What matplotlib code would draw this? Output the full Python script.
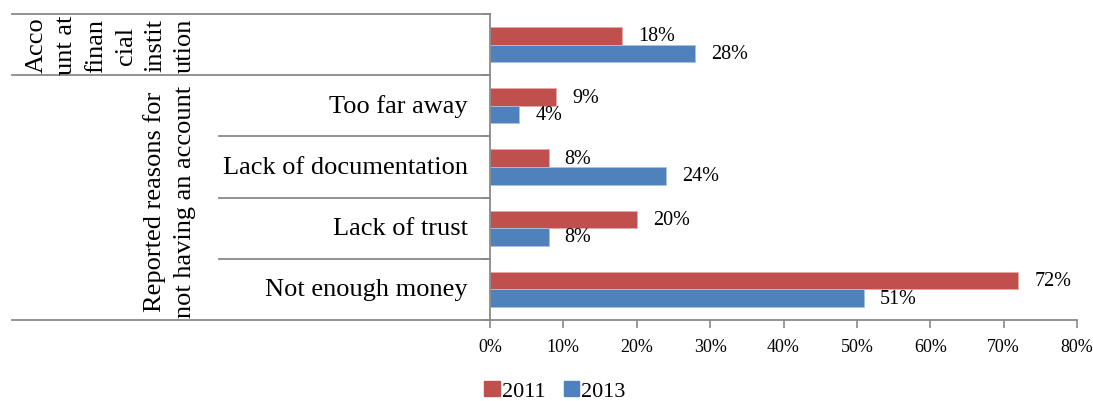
import matplotlib
matplotlib.use("Agg")
from matplotlib import pyplot as plt
from matplotlib.lines import Line2D
from matplotlib.patches import Patch

plt.rcParams['font.family'] = ['Liberation Serif', 'DejaVu Serif']

# data (percent of adults)
categories = ["Account at financial institution", "Too far away",
              "Lack of documentation", "Lack of trust", "Not enough money"]
row_labels = ["", "Too far away", "Lack of documentation", "Lack of trust",
              "Not enough money"]
values_2011 = [18, 9, 8, 20, 72]
values_2013 = [28, 4, 24, 8, 51]
series_names = ["2011", "2013"]
xticks = [0, 10, 20, 30, 40, 50, 60, 70, 80]

red = "#C0504D"
blue = "#4F81BD"
grey = "#898989"

fig = plt.figure(figsize=(10.93, 4.02), dpi=100)
ax = fig.add_axes([490 / 1093, 1 - 321 / 402, 587 / 1093, 306 / 402])

ypos = list(range(len(categories)))
h = 0.286
b1 = ax.barh([y - h / 2 for y in ypos], values_2011, height=h, color=red,
             edgecolor="#e6a9a7", linewidth=0.6)
b2 = ax.barh([y + h / 2 for y in ypos], values_2013, height=h, color=blue,
             edgecolor="#a9c1e0", linewidth=0.6)

for bars, vals in ((b1, values_2011), (b2, values_2013)):
    for bar, v in zip(bars, vals):
        ax.annotate("%d%%" % v, (v, bar.get_y() + bar.get_height() / 2),
                    xytext=(11.5, 0), textcoords="offset points",
                    ha="left", va="center", fontsize=14.5)

ax.set_xlim(0, 80)
ax.set_ylim(4.5, -0.5)
ax.set_xticks(xticks)
ax.set_xticklabels(["%d%%" % t for t in xticks], fontsize=13)
ax.set_yticks([])
ax.tick_params(axis="x", length=6, width=1.2, color=grey, pad=7)
for s in ("top", "right"):
    ax.spines[s].set_visible(False)
for s in ("left", "bottom"):
    ax.spines[s].set_color(grey)
    ax.spines[s].set_linewidth(1.3)

# table lines on the left
tr = ax.get_yaxis_transform()
outer_x = (12 - 490) / 587
inner_x = (219 - 490) / 587
for yb, x0 in ((-0.5, outer_x), (0.5, outer_x), (1.5, inner_x),
               (2.5, inner_x), (3.5, inner_x), (4.5, outer_x)):
    ax.add_line(Line2D([x0, 0], [yb, yb], transform=tr, color=grey,
                       linewidth=1.3, clip_on=False))
# small tick stubs on the value axis edge
for yb in (-0.5, 0.5, 1.5, 2.5, 3.5, 4.5):
    ax.add_line(Line2D([-0.012, 0], [yb, yb], transform=tr, color=grey,
                       linewidth=1.3, clip_on=False))

lab_x = (468 - 490) / 587
for y, lab in zip(ypos, row_labels):
    ax.text(lab_x, y, lab, transform=tr, ha="right", va="center", fontsize=19)

grp_x = (196 - 490) / 587
ax.text(grp_x, 0, "Acco\nunt at\nfinan\ncial\ninstit\nution", transform=tr,
        rotation=90, ha="right", va="center", multialignment="center",
        fontsize=19, linespacing=1.45)
ax.text(grp_x, 2.55, "Reported reasons for\nnot having an account",
        transform=tr, rotation=90, ha="right", va="center",
        multialignment="center", fontsize=19, linespacing=1.45)

handles = [Patch(color=red), Patch(color=blue)]
fig.legend(handles, series_names, loc="center", ncol=2, frameon=False,
           bbox_to_anchor=(555 / 1093, 1 - 392 / 402), fontsize=16,
           handlelength=0.7, handleheight=0.7, handletextpad=0.1,
           columnspacing=0.8, borderpad=0)

fig.savefig("out.png", dpi=100)
